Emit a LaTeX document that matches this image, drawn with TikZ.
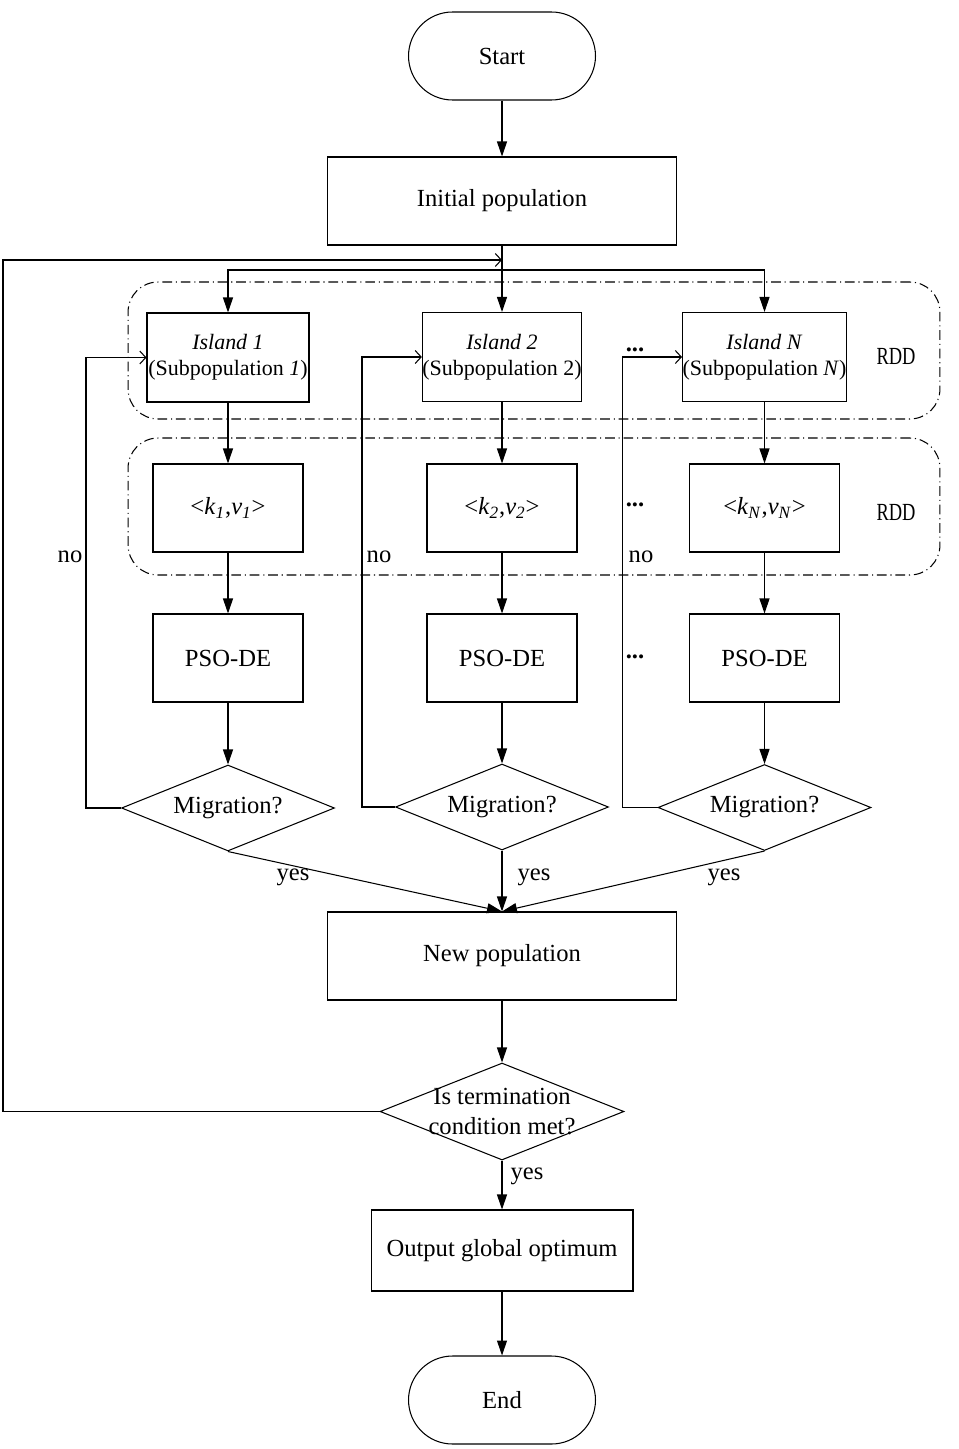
\documentclass[tikz,border=0pt]{standalone}
\usepackage{fontspec}
\setmainfont{Liberation Serif}
\usetikzlibrary{shapes.geometric,arrows.meta}

\begin{document}
\begin{tikzpicture}[x=0.02cm,y=-0.02cm,line width=0.6pt,
  font=\fontsize{14}{17}\selectfont,
  every node/.style={inner sep=0pt},
  terminal/.style={draw,rounded corners=0.88cm,minimum width=3.74cm,minimum height=1.76cm},
  proc/.style={draw,minimum width=3cm,minimum height=1.76cm,align=center},
  island/.style={proc,minimum height=1.78cm,font=\fontsize{12.5}{15}\selectfont},
  decision/.style={draw,diamond,aspect=2.5,minimum width=4.26cm,minimum height=1.72cm},
  rdd/.style={draw,dash pattern=on 5.5pt off 2.2pt on 0.6pt off 2.2pt,rounded corners=0.6cm,
    minimum width=16.24cm,minimum height=2.74cm},
  arr/.style={-{Triangle[length=3mm,width=2mm]}},
  back/.style={-{Straight Barb[length=1.2mm,width=2.6mm]}}]
\useasboundingbox (0,0) rectangle (959,1449);

% RDD containers
\node (rddA) [rdd] at (534,350.5) {};
\node (rddB) [rdd] at (534,506.5) {};
\node (rddAlbl) at (896,356) {\scalebox{0.75}[1]{RDD}};
\node (rddBlbl) at (896,512) {\scalebox{0.75}[1]{RDD}};

\node (start) [terminal] at (502,56) {Start};
\node (init) [proc,minimum width=6.98cm] at (502,201) {Initial population};

% islands
\node (isl1) [island,minimum width=3.24cm] at (228,357.5) {\textit{Island 1}\\(Subpopulation \textit{1})};
\node (isl2) [island,minimum width=3.1cm] at (502,357) {\textit{Island 2}\\(Subpopulation 2)};
\node (islN) [island,minimum width=3.26cm] at (764.5,357) {\textit{Island N}\\(Subpopulation \textit{N})};

\node (kv1) [proc] at (228,508) {<\textit{k}\textsubscript{\textit{1}},\textit{v}\textsubscript{\textit{1}}>};
\node (kv2) [proc] at (502,508) {<\textit{k}\textsubscript{\textit{2}},\textit{v}\textsubscript{\textit{2}}>};
\node (kvN) [proc] at (764.5,508) {<\textit{k}\textsubscript{\textit{N}},\textit{v}\textsubscript{\textit{N}}>};

\node (pso1) [proc] at (228,658) {PSO-DE};
\node (pso2) [proc] at (502,658) {PSO-DE};
\node (psoN) [proc] at (764.5,658) {PSO-DE};

\node (mig1) [decision] at (228,808) {Migration?};
\node (mig2) [decision] at (502,807) {Migration?};
\node (migN) [decision] at (764.5,807.5) {Migration?};

\node (dotsA) at (635,350) {\textbf{...}};
\node (dotsB) at (635,505) {\textbf{...}};
\node (dotsC) at (635,657) {\textbf{...}};

\node (newp) [proc,minimum width=6.98cm] at (502,956) {New population};
\node (check) [decision,minimum width=4.88cm,minimum height=1.94cm,
  label={[align=center]center:Is termination\\condition met?}] at (502,1111.5) {};
\node (out) [proc,minimum width=5.24cm,minimum height=1.62cm] at (502,1250.5) {Output global optimum};
\node (stop) [terminal] at (502,1400) {End};

% labels
\node (no1) at (70,557) {no};
\node (no2) at (379,557) {no};
\node (noN) at (641,557) {no};
\node (yes1) at (293,877) {yes};
\node (yes2) at (534,877) {yes};
\node (yesN) at (724,877) {yes};
\node (yesT) at (527,1176) {yes};

% connectors
\coordinate (merge) at (502,260);
\coordinate (split) at (502,270);
\coordinate (edge) at (3,700);
\draw[arr] (start) -- (init);
\draw (init) -- (split);
\draw[arr] (split) -| (isl1.north);
\draw[arr] (split) -- (isl2.north);
\draw[arr] (split) -| (islN.north);
\foreach \i in {1,2,N}{
  \draw[arr] (isl\i) -- (kv\i);
  \draw[arr] (kv\i) -- (pso\i);
  \draw[arr] (pso\i) -- (mig\i);
  \draw[arr] (mig\i.south) -- (newp.north);
}
\draw[back] (mig1.west) -- ++(-35,0) |- (isl1.west);
\draw[back] (mig2.west) -- ++(-33,0) |- (isl2.west);
\draw[back] (migN.west) -- ++(-35,0) |- (islN.west);
\draw[arr] (newp) -- (check.north);
\draw[arr] (check) -- (out);
\draw[arr] (out) -- (stop);
\draw[back] (check.west) -| (edge) |- (merge);
\end{tikzpicture}
\end{document}
